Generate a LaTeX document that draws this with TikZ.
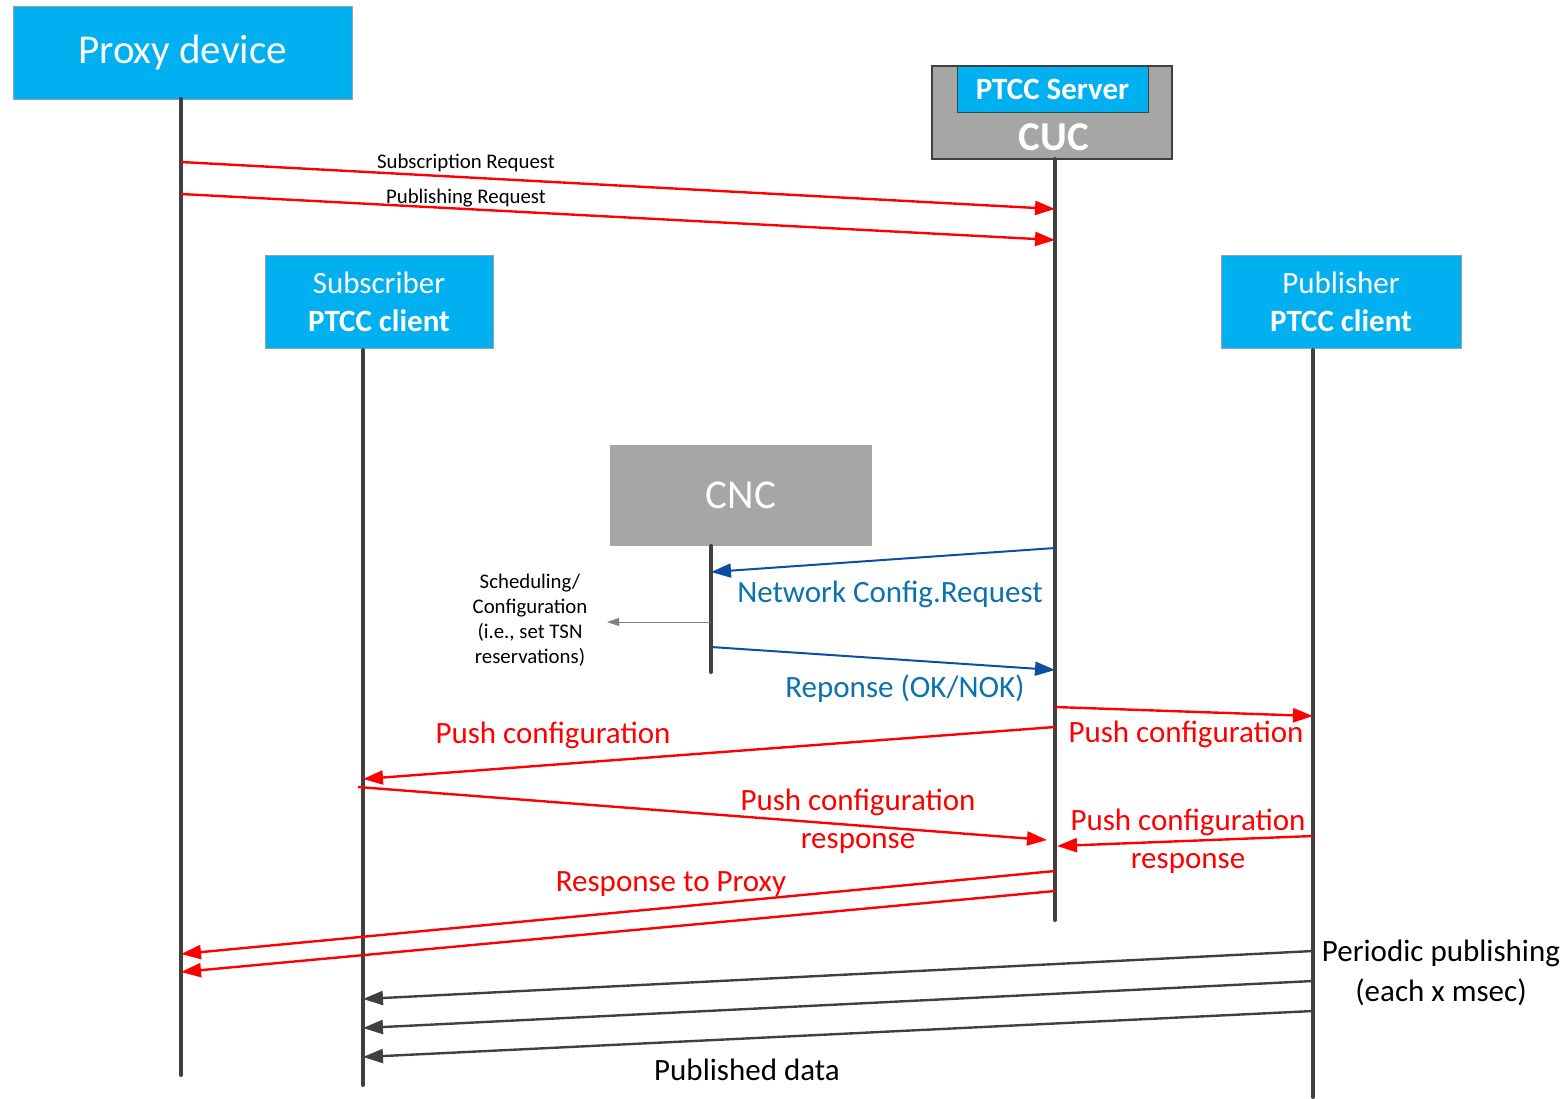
\documentclass[tikz,border=0pt]{standalone}
\usepackage{fontspec}
\setmainfont{Carlito}
\usetikzlibrary{arrows.meta}
\definecolor{boxcyan}{HTML}{00B0F0}
\definecolor{boxgray}{HTML}{A6A6A6}
\definecolor{lifegray}{HTML}{404040}
\definecolor{msgred}{HTML}{FF0000}
\definecolor{msgblue}{HTML}{0B4EA2}
\definecolor{txtblue}{HTML}{0B72AE}
\newcommand{\bigtxt}{\fontsize{20.5}{24}\selectfont}
\newcommand{\midtxt}{\fontsize{15.5}{19}\selectfont}
\newcommand{\smalltxt}{\fontsize{10.4}{12.5}\selectfont}
\begin{document}
\begin{tikzpicture}[x=0.5pt,y=-0.5pt,
  actor/.style={draw=gray!75, line width=0.5pt, fill=boxcyan, text=white,
    inner sep=0pt, align=center},
  graybox/.style={fill=boxgray, text=white, inner sep=0pt},
  lifeline/.style={draw=lifegray, line width=2pt, line cap=round},
  redmsg/.style={draw=msgred, line width=1.2pt, -{Triangle[length=10pt,width=7pt]}},
  bluemsg/.style={draw=msgblue, line width=1pt, -{Triangle[length=10pt,width=7pt]}},
  graymsg/.style={draw=lifegray, line width=1.2pt, -{Triangle[length=10pt,width=7pt]}},
  notemsg/.style={draw=gray, line width=0.4pt, -{Triangle[length=6pt,width=4pt]}},
  lbl/.style={inner sep=0pt, align=center},
  big/.style={font=\bigtxt},
  mid/.style={font=\midtxt},
  small/.style={font=\smalltxt}]
\useasboundingbox (0,0) rectangle (1568,1098);

% participants
\node[actor, big, minimum width=169.5pt, minimum height=46.5pt] (proxy) at (182.5,52.5) {Proxy device};
\node[graybox, draw=lifegray, line width=0.6pt, minimum width=120pt, minimum height=46.5pt] (cuc) at (1052,112.5) {};
\node[actor, mid, draw=lifegray, minimum width=95.5pt, minimum height=23pt] (server) at (1052.5,89) {\textbf{PTCC Server}};
\node[lbl, big, text=white] (cuclbl) at (1054,137) {\textbf{CUC}};
\node[actor, mid, minimum width=114pt, minimum height=46.5pt] (sub) at (379,301.5) {Subscriber\\\textbf{PTCC client}};
\node[actor, mid, minimum width=120pt, minimum height=46.5pt] (pub) at (1341,301.5) {Publisher\\\textbf{PTCC client}};
\node[graybox, big, minimum width=131pt, minimum height=50.5pt] (cnc) at (741,495.5) {CNC};

% lifelines
\coordinate (pxTop) at (181,99);   \coordinate (pxBot) at (181,1075);
\coordinate (cuTop) at (1055,159); \coordinate (cuBot) at (1055,920);
\coordinate (sbTop) at (363,350);  \coordinate (sbBot) at (363,1085);
\coordinate (pbTop) at (1313,350); \coordinate (pbBot) at (1313,1097);
\coordinate (cnTop) at (711,546);  \coordinate (cnBot) at (711,672);
\draw[lifeline] (pxTop) -- (pxBot);
\draw[lifeline] (cuTop) -- (cuBot);
\draw[lifeline] (sbTop) -- (sbBot);
\draw[lifeline] (pbTop) -- (pbBot);
\draw[lifeline] (cnTop) -- (cnBot);

% proxy -> CUC requests
\coordinate (m1s) at (181,162); \coordinate (m1e) at (1055,209);
\coordinate (m2s) at (181,194); \coordinate (m2e) at (1055,240);
\draw[redmsg] (m1s) -- (m1e);
\draw[redmsg] (m2s) -- (m2e);
\node[lbl, small] (l1) at (466,163) {Subscription Request};
\node[lbl, small] (l2) at (466,198) {Publishing Request};

% CUC <-> CNC
\coordinate (m3s) at (1055,548); \coordinate (m3e) at (711,572);
\coordinate (m4s) at (711,647);  \coordinate (m4e) at (1055,670);
\draw[bluemsg] (m3s) -- (m3e);
\draw[bluemsg] (m4s) -- (m4e);
\node[lbl, mid, text=txtblue] (l3) at (890,594) {Network Config.Request};
\node[lbl, mid, text=txtblue] (l4) at (905,689) {Reponse (OK/NOK)};

% CNC scheduling note
\node[lbl, small] (note) at (530,620) {Scheduling/\\Configuration\\(i.e., set TSN\\reservations)};
\coordinate (m5s) at (711,622);
\draw[notemsg] (m5s) -- (607,622);

% configuration push
\coordinate (m6s) at (1055,707); \coordinate (m6e) at (1313,716);
\coordinate (m7s) at (1055,727); \coordinate (m7e) at (363,779);
\coordinate (m8s) at (358,787);  \coordinate (m8e) at (1047,840);
\coordinate (m9s) at (1313,836); \coordinate (m9e) at (1057,846);
\draw[redmsg] (m6s) -- (m6e);
\draw[redmsg] (m7s) -- (m7e);
\draw[redmsg] (m8s) -- (m8e);
\draw[redmsg] (m9s) -- (m9e);
\node[lbl, mid, text=msgred] (l6) at (1186,734) {Push configuration};
\node[lbl, mid, text=msgred] (l7) at (553,735) {Push configuration};
\node[lbl, mid, text=msgred] (l8) at (858,821) {Push configuration\\response};
\node[lbl, mid, text=msgred] (l9) at (1188,841) {Push configuration\\response};

% responses back to proxy
\coordinate (m10s) at (1055,871); \coordinate (m10e) at (181,954);
\coordinate (m11s) at (1055,891); \coordinate (m11e) at (181,972);
\draw[redmsg] (m10s) -- (m10e);
\draw[redmsg] (m11s) -- (m11e);
\node[lbl, mid, text=msgred] (l10) at (671,884) {Response to Proxy};

% periodic publishing
\coordinate (p1s) at (1313,951);  \coordinate (p1e) at (363,999);
\coordinate (p2s) at (1313,981);  \coordinate (p2e) at (363,1028);
\coordinate (p3s) at (1313,1011); \coordinate (p3e) at (363,1057);
\draw[graymsg] (p1s) -- (p1e);
\draw[graymsg] (p2s) -- (p2e);
\draw[graymsg] (p3s) -- (p3e);
\node[lbl, font=\fontsize{15.5}{20}\selectfont] (l11) at (1441,973) {Periodic publishing\\(each x msec)};
\node[lbl, mid] (l12) at (747,1070) {Published data};
\end{tikzpicture}
\end{document}
